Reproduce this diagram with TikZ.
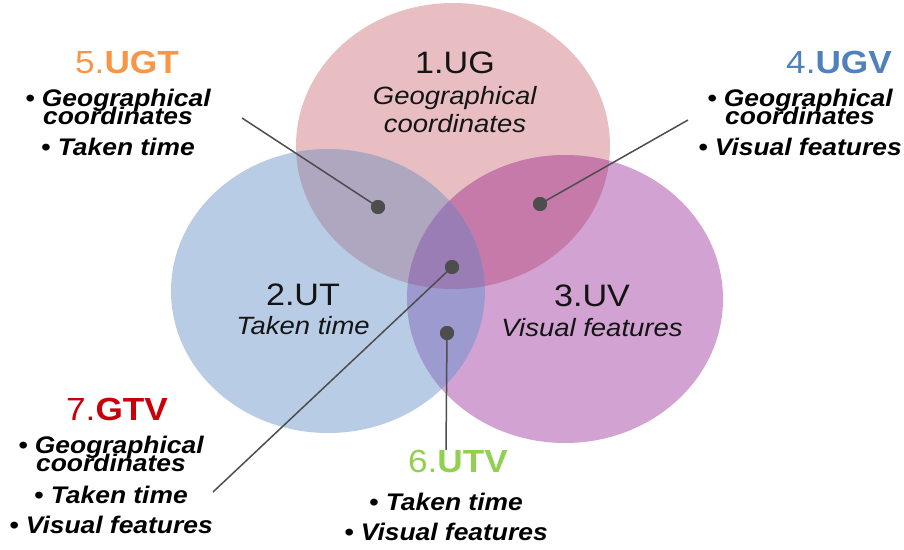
\documentclass[tikz,border=0pt]{standalone}
\usepackage{fontspec}
\setmainfont[FakeStretch=1.1]{Liberation Sans}
\usetikzlibrary{positioning}
\usepackage{xcolor}
\definecolor{ugpink}{HTML}{E8BEC3}
\definecolor{utblue}{HTML}{B9CCE5}
\definecolor{uvpurple}{HTML}{D1A2D2}
\definecolor{ugutmix}{HTML}{AEA7BF}
\definecolor{uguvmix}{HTML}{C67AAA}
\definecolor{utuvmix}{HTML}{9D9AD0}
\definecolor{allmix}{HTML}{9B7DB5}
\definecolor{dotgray}{HTML}{4D4D4D}
\definecolor{ugtorange}{HTML}{F79646}
\definecolor{ugvblue}{HTML}{4F81BD}
\definecolor{gtvred}{HTML}{C8000A}
\definecolor{utvgreen}{HTML}{92D050}

% the three sets
\newcommand{\circUG}{(453,146) ellipse [x radius=157pt, y radius=143pt]}
\newcommand{\circUT}{(328,291) ellipse [x radius=157pt, y radius=142pt]}
\newcommand{\circUV}{(565,299) ellipse [x radius=158pt, y radius=144pt]}

\begin{document}
\begin{tikzpicture}[x=1pt, y=-1pt,
  setlabel/.style={align=center, anchor=north, inner sep=0pt, text=black!92,
    font=\fontsize{25}{29}\selectfont},
  combotitle/.style={anchor=base, inner sep=0pt, font=\fontsize{32}{33}\selectfont},
  combolist/.style={align=center, anchor=north, inner sep=0pt,
    font=\fontsize{24}{33}\selectfont\bfseries\itshape},
  dot/.style={circle, fill=dotgray, inner sep=0pt, minimum size=14pt},
  leader/.style={draw=dotgray, line width=1.5pt}]
  \useasboundingbox (0,0) rectangle (904,549);

  % base fills
  \fill[ugpink] \circUG;
  \fill[utblue] \circUT;
  \fill[uvpurple] \circUV;
  % overlaps
  \begin{scope}
    \clip \circUG;
    \fill[ugutmix] \circUT;
  \end{scope}
  \begin{scope}
    \clip \circUG;
    \fill[uguvmix] \circUV;
  \end{scope}
  \begin{scope}
    \clip \circUT;
    \fill[utuvmix] \circUV;
  \end{scope}
  \begin{scope}
    \clip \circUG;
    \clip \circUT;
    \fill[allmix] \circUV;
  \end{scope}

  % set names
  \node[setlabel] (ug) at (455,52)
    {{\fontsize{31}{29}\selectfont 1.UG}\\[2pt]\textit{Geographical}\\[-1pt]\textit{coordinates}};
  \node[setlabel] (ut) at (303,284)
    {{\fontsize{31}{29}\selectfont 2.UT}\\\textit{Taken time}};
  \node[setlabel] (uv) at (592,285)
    {{\fontsize{31}{29}\selectfont 3.UV}\\[1pt]\textit{Visual features}};

  % dots in the overlaps
  \node[dot] (ugt-dot) at (378,207) {};
  \node[dot] (ugv-dot) at (540,204) {};
  \node[dot] (gtv-dot) at (452,267) {};
  \node[dot] (utv-dot) at (447,333) {};

  % combinations
  \node[combotitle, text=ugtorange] (ugt) at (127,73) {5.\textbf{UGT}};
  \node[combolist] (ugt-list) at (118,88.5)
    {• Geographical\\[-15pt]coordinates\\[-2pt]• Taken time};
  \node[combotitle, text=ugvblue] (ugv) at (839,73) {4.\textbf{UGV}};
  \node[combolist] (ugv-list) at (800,88.5)
    {• Geographical\\[-15pt]coordinates\\[-2pt]• Visual features};
  \node[combotitle, text=gtvred] (gtv) at (117,420) {7.\textbf{GTV}};
  \node[combolist] (gtv-list) at (111,435.5)
    {• Geographical\\[-15pt]coordinates\\[-1pt]• Taken time\\[-3pt]• Visual features};
  \node[combotitle, text=utvgreen] (utv) at (458,472) {6.\textbf{UTV}};
  \node[combolist] (utv-list) at (446,492.5)
    {• Taken time\\[-3pt]• Visual features};

  % leader lines
  \coordinate (ugt-end) at (242,118);
  \coordinate (ugv-end) at (688,120);
  \coordinate (gtv-end) at (213,492);
  \coordinate (utv-end) at (446,450);
  \draw[leader] (ugt-end) -- (ugt-dot.center);
  \draw[leader] (ugv-end) -- (ugv-dot.center);
  \draw[leader] (gtv-end) -- (gtv-dot.center);
  \draw[leader] (utv-end) -- (utv-dot.center);
  \foreach \d in {ugt-dot, ugv-dot, gtv-dot, utv-dot}
    \fill[dotgray] (\d) circle (7pt);
\end{tikzpicture}
\end{document}
